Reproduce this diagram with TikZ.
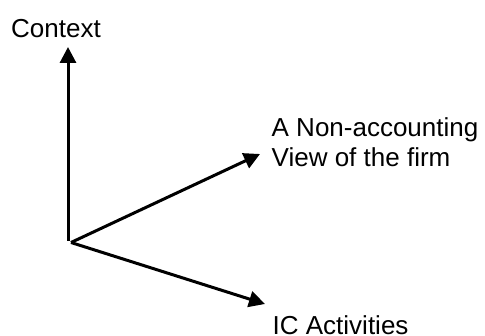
\documentclass[tikz,border=0pt]{standalone}
\usepackage{fontspec}
\setmainfont{Liberation Sans}
\usetikzlibrary{arrows.meta}
\begin{document}
\begin{tikzpicture}[x=1pt,y=-1pt,
  axis/.style={line width=3pt,-{Triangle[length=16pt,width=16pt]}},
  lbl/.style={inner sep=0pt,anchor=base west,font=\fontsize{26}{30}\selectfont,align=left}]
\useasboundingbox (0,0) rectangle (485,336);
% origin of the three axes
\coordinate (o) at (68,241);
\coordinate (od) at (71,242.5);
% axis end points
\coordinate (ctx) at (68,47);
\coordinate (nav) at (260,154);
\coordinate (ica) at (265,304);
\draw[axis] (o) -- (ctx);
\draw[axis] (od) -- (nav);
\draw[axis] (od) -- (ica);
% labels
\node[lbl] (lctx) at (11,37.5) {Context};
\node[lbl,anchor=north west] (lnav) at (271.5,117.8) {A Non-accounting\\View of the firm};
\node[lbl] (lica) at (272.5,335) {IC Activities};
\end{tikzpicture}
\end{document}
